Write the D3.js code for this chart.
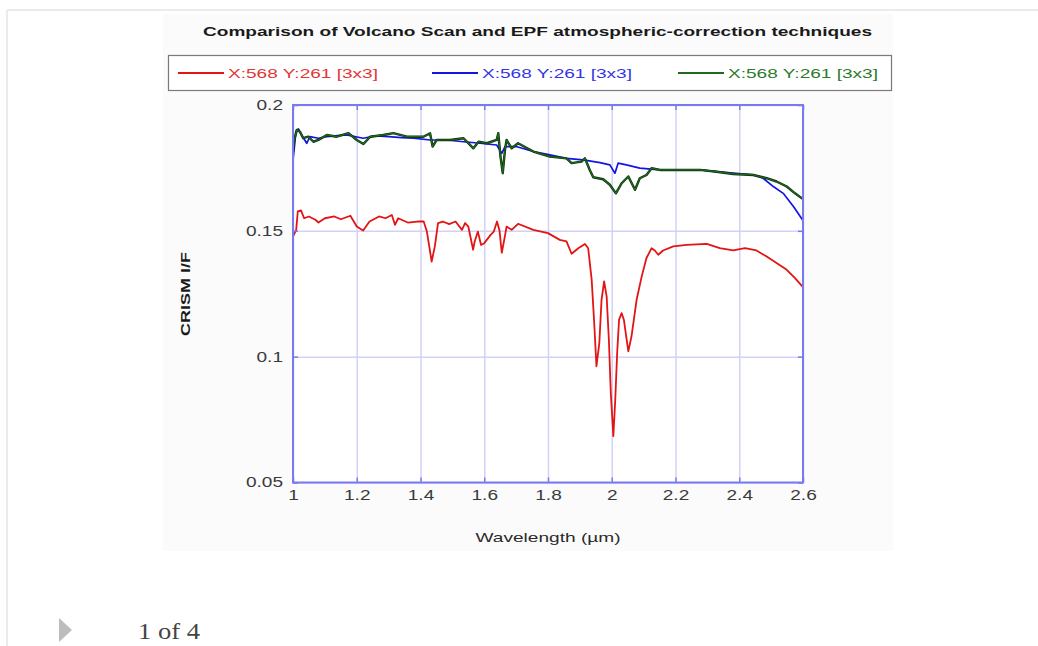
<!DOCTYPE html>
<html><head><meta charset="utf-8">
<script src="https://cdn.jsdelivr.net/npm/d3@7"></script>
<style>html,body{margin:0;padding:0;background:#fff;}svg{display:block;}</style>
</head><body>
<svg id="c" width="1038" height="646"></svg>
<script>
const title = "Comparison of Volcano Scan and EPF atmospheric-correction techniques";
const seriesNames = ["X:568 Y:261 [3x3]", "X:568 Y:261 [3x3]", "X:568 Y:261 [3x3]"];
const xTicks = [1, 1.2, 1.4, 1.6, 1.8, 2, 2.2, 2.4, 2.6];
const xTickLabels = ["1", "1.2", "1.4", "1.6", "1.8", "2", "2.2", "2.4", "2.6"];
const yTicks = [0.05, 0.1, 0.15, 0.2];
const yTickLabels = ["0.05", "0.1", "0.15", "0.2"];

const redWl = [1.0,1.01,1.015,1.025,1.035,1.05,1.07,1.08,1.1,1.13,1.15,1.18,1.2,1.22,1.24,1.27,1.29,1.31,1.32,1.33,1.36,1.39,1.41,1.42,1.43,1.435,1.445,1.455,1.47,1.49,1.51,1.53,1.54,1.55,1.565,1.57,1.58,1.59,1.6,1.62,1.63,1.64,1.648,1.655,1.665,1.67,1.686,1.706,1.754,1.8,1.837,1.858,1.874,1.895,1.916,1.926,1.937,1.945,1.952,1.961,1.968,1.976,1.984,1.991,1.997,2.005,2.011,2.017,2.023,2.031,2.038,2.052,2.062,2.078,2.094,2.109,2.125,2.135,2.146,2.161,2.193,2.235,2.298,2.339,2.381,2.418,2.454,2.486,2.517,2.549,2.575,2.6];
const redVal = [0.1477,0.1504,0.1577,0.1581,0.1550,0.1557,0.1544,0.1533,0.1550,0.1557,0.1546,0.1560,0.1517,0.1501,0.1537,0.1557,0.1550,0.1563,0.1524,0.1550,0.1533,0.1537,0.1537,0.1497,0.1418,0.1378,0.1438,0.1531,0.1537,0.1527,0.1537,0.1504,0.1531,0.1517,0.1425,0.1458,0.1497,0.1444,0.1451,0.1484,0.1497,0.1537,0.1500,0.1413,0.1480,0.1517,0.1504,0.1528,0.1504,0.1491,0.1464,0.1458,0.1409,0.1431,0.1448,0.1431,0.1306,0.1134,0.0962,0.1054,0.1226,0.1299,0.1239,0.1067,0.0856,0.0684,0.0829,0.1015,0.1147,0.1173,0.1147,0.1021,0.1081,0.1226,0.1319,0.1392,0.1431,0.1422,0.1405,0.1422,0.1438,0.1444,0.1448,0.1431,0.1422,0.1431,0.1422,0.1398,0.1372,0.1345,0.1312,0.1276];

const blueWl = [1.0,1.004,1.009,1.017,1.027,1.043,1.053,1.08,1.106,1.14,1.168,1.22,1.26,1.3,1.34,1.378,1.43,1.482,1.535,1.587,1.639,1.655,1.665,1.70,1.754,1.806,1.858,1.91,1.963,1.994,2.01,2.02,2.046,2.088,2.151,2.224,2.277,2.329,2.381,2.444,2.475,2.507,2.538,2.57,2.6];
const blueVal = [0.1782,0.1828,0.1894,0.1905,0.1881,0.1848,0.1874,0.1868,0.1874,0.1878,0.1881,0.1868,0.1877,0.1874,0.1870,0.1868,0.1861,0.1861,0.1854,0.1848,0.1841,0.1808,0.1835,0.1835,0.1815,0.1802,0.1788,0.1782,0.1771,0.1762,0.1729,0.1769,0.1762,0.1749,0.1742,0.1742,0.1742,0.1735,0.1729,0.1722,0.1709,0.1676,0.1649,0.1597,0.1541];

const greenWl = [1.0,1.004,1.012,1.022,1.032,1.048,1.064,1.08,1.106,1.137,1.174,1.2,1.221,1.242,1.283,1.315,1.357,1.409,1.43,1.438,1.451,1.493,1.535,1.566,1.582,1.608,1.639,1.644,1.651,1.658,1.665,1.67,1.686,1.706,1.754,1.806,1.858,1.874,1.905,1.916,1.931,1.942,1.973,1.994,2.013,2.031,2.052,2.073,2.088,2.109,2.125,2.151,2.224,2.277,2.329,2.381,2.444,2.486,2.517,2.549,2.575,2.6];
const greenVal = [0.1815,0.1861,0.1901,0.1894,0.1868,0.1874,0.1854,0.1861,0.1881,0.1874,0.1888,0.1861,0.1845,0.1874,0.1881,0.1888,0.1874,0.1874,0.1888,0.1835,0.1861,0.1861,0.1868,0.1828,0.1854,0.1848,0.1861,0.1888,0.1795,0.1729,0.1821,0.1861,0.1828,0.1848,0.1815,0.1795,0.1788,0.1769,0.1775,0.1788,0.1742,0.1713,0.1705,0.1683,0.1649,0.1689,0.1716,0.1663,0.1709,0.1722,0.1749,0.1742,0.1742,0.1742,0.1735,0.1726,0.1722,0.1709,0.1696,0.1676,0.1649,0.1626];

const svg = d3.select("#c");
const SX = 1.36;
function stretch(sel, f) {
  sel.each(function () {
    const l = this.getComputedTextLength();
    d3.select(this).attr("textLength", l * f).attr("lengthAdjust", "spacingAndGlyphs");
  });
}
function fitLen(sel, len) {
  sel.attr("textLength", len).attr("lengthAdjust", "spacingAndGlyphs");
}

// page frame
svg.append("line").attr("x1", 7).attr("x2", 7).attr("y1", 10).attr("y2", 646).attr("stroke", "#ebebeb").attr("stroke-width", 2);
svg.append("line").attr("x1", 7).attr("x2", 1038).attr("y1", 10).attr("y2", 10).attr("stroke", "#ebebeb").attr("stroke-width", 2);
// chart image background
svg.append("rect").attr("x", 163).attr("y", 14).attr("width", 730).attr("height", 537).attr("fill", "#fbfbfb");

const x = d3.scaleLinear().domain([1, 2.6]).range([293, 803]);
const y = d3.scaleLinear().domain([0.05, 0.2]).range([482.5, 105]);
const [px0, px1] = x.range();
const [py1, py0] = y.range();

svg.append("rect").attr("x", px0).attr("y", py0).attr("width", px1 - px0).attr("height", py1 - py0).attr("fill", "#fff");

// grid
const gridX = svg.append("g").attr("transform", `translate(0,${py1})`)
  .call(d3.axisBottom(x).tickValues(xTicks).tickSize(-(py1 - py0)).tickFormat(""));
const gridY = svg.append("g").attr("transform", `translate(${px0},0)`)
  .call(d3.axisLeft(y).tickValues(yTicks).tickSize(-(px1 - px0)).tickFormat(""));
[gridX, gridY].forEach(g => {
  g.select(".domain").remove();
  g.selectAll("line").attr("stroke", "#d2d2f8").attr("stroke-width", 1.5);
});

// lines
svg.append("clipPath").attr("id", "pc").append("rect")
  .attr("x", px0).attr("y", py0).attr("width", px1 - px0).attr("height", py1 - py0);
const line = d3.line().x(d => x(d[0])).y(d => y(d[1]));
const plotG = svg.append("g").attr("clip-path", "url(#pc)");
plotG.append("path").datum(blueWl.map((w, i) => [w, blueVal[i]])).attr("d", line)
  .attr("fill", "none").attr("stroke", "#1414e6").attr("stroke-width", 1.7).attr("stroke-linejoin", "round");
[{ color: "#0d2e0d", w: 2.4 }, { color: "#1f6a1f", w: 1.2 }].forEach(s => {
  plotG.append("path").datum(greenWl.map((w, i) => [w, greenVal[i]])).attr("d", line)
    .attr("fill", "none").attr("stroke", s.color).attr("stroke-width", s.w).attr("stroke-linejoin", "round");
});
plotG.append("path").datum(redWl.map((w, i) => [w, redVal[i]])).attr("d", line)
  .attr("fill", "none").attr("stroke", "#e31414").attr("stroke-width", 1.8).attr("stroke-linejoin", "round");

// small inner ticks on all four sides
const tcol = "#7a7af0";
const tb = svg.append("g").attr("transform", `translate(0,${py1})`).call(d3.axisTop(x).tickValues(xTicks).tickSize(5).tickFormat(""));
const tt = svg.append("g").attr("transform", `translate(0,${py0})`).call(d3.axisBottom(x).tickValues(xTicks).tickSize(5).tickFormat(""));
const tl = svg.append("g").attr("transform", `translate(${px0},0)`).call(d3.axisRight(y).tickValues(yTicks).tickSize(5).tickFormat(""));
const tr = svg.append("g").attr("transform", `translate(${px1},0)`).call(d3.axisLeft(y).tickValues(yTicks).tickSize(5).tickFormat(""));
[tb, tt, tl, tr].forEach(g => { g.select(".domain").remove(); g.selectAll("line").attr("stroke", tcol).attr("stroke-width", 1.5); });

svg.append("rect").attr("x", px0).attr("y", py0).attr("width", px1 - px0).attr("height", py1 - py0)
  .attr("fill", "none").attr("stroke", tcol).attr("stroke-width", 2);

// tick labels
const xl = svg.append("g").attr("transform", `translate(0,${py1})`)
  .call(d3.axisBottom(x).tickValues(xTicks).tickSize(0).tickPadding(8).tickFormat((d, i) => xTickLabels[i]));
const yl = svg.append("g").attr("transform", `translate(${px0},0)`)
  .call(d3.axisLeft(y).tickValues(yTicks).tickSize(0).tickPadding(10).tickFormat((d, i) => yTickLabels[i]));
[xl, yl].forEach(g => {
  g.select(".domain").remove();
  g.selectAll("text").attr("font-family", "Liberation Sans, Arial, sans-serif").attr("font-size", 14).attr("fill", "#3a3a3a");
  stretch(g.selectAll("text"), SX);
});

// title
svg.append("text").attr("x", 537.5).attr("y", 36).attr("text-anchor", "middle")
  .attr("font-family", "Liberation Sans, Arial, sans-serif").attr("font-weight", "bold").attr("font-size", 13.5)
  .attr("fill", "#1a1a1a").text(title).call(fitLen, 669);

// legend
svg.append("rect").attr("x", 168.5).attr("y", 55.5).attr("width", 723).attr("height", 35)
  .attr("fill", "#fff").attr("stroke", "#7a7a7a").attr("stroke-width", 1.2);
const legendColors = ["#e31414", "#1414e6", "#1f6a1f"];
const legendText = ["#e33434", "#3434e6", "#2a7a2a"];
const legendX = [178, 432, 678];
seriesNames.forEach((nm, i) => {
  svg.append("line").attr("x1", legendX[i]).attr("x2", legendX[i] + 46).attr("y1", 73).attr("y2", 73)
    .attr("stroke", legendColors[i]).attr("stroke-width", 1.8);
  svg.append("text").attr("x", legendX[i] + 50).attr("y", 78)
    .attr("font-family", "Liberation Sans, Arial, sans-serif").attr("font-size", 13.5)
    .attr("fill", legendText[i]).text(nm).call(fitLen, 150);
});

// axis titles
svg.append("text").attr("x", 548).attr("y", 542).attr("text-anchor", "middle")
  .attr("font-family", "Liberation Sans, Arial, sans-serif").attr("font-size", 13.5).attr("fill", "#2a2a2a")
  .text("Wavelength (µm)").call(fitLen, 145);
svg.append("text").attr("transform", "translate(190,294) rotate(-90)").attr("text-anchor", "middle")
  .attr("font-family", "Liberation Sans, Arial, sans-serif").attr("font-weight", "bold").attr("font-size", 12)
  .attr("fill", "#1a1a1a").text("CRISM I/F").call(fitLen, 84);

// caption
svg.append("path").attr("d", "M59,618 L72,630 L59,642 Z").attr("fill", "#bdbdbd");
svg.append("text").attr("x", 138).attr("y", 639)
  .attr("font-family", "Liberation Serif, Times New Roman, serif").attr("font-size", 24).attr("fill", "#444")
  .text("1 of 4").call(fitLen, 62);
</script>
</body></html>
